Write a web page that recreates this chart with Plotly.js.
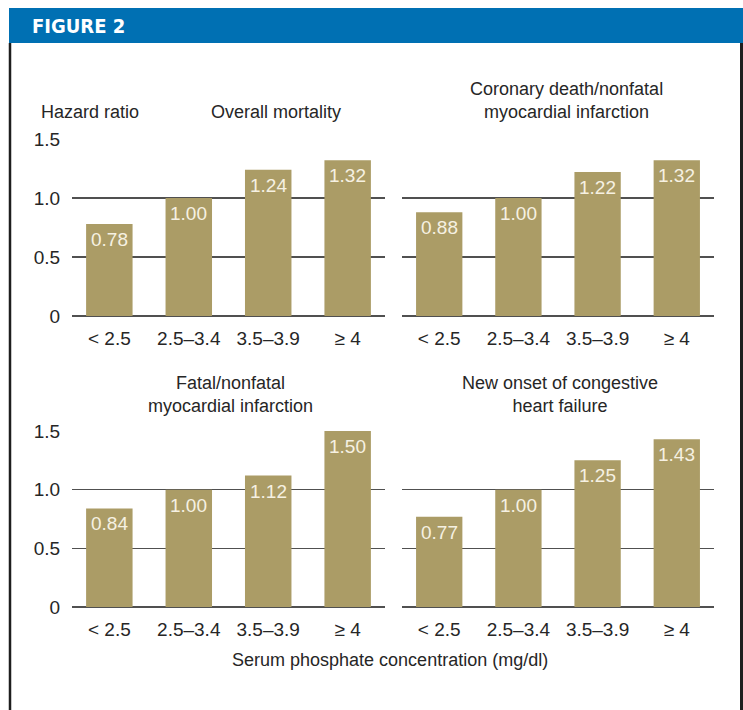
<!DOCTYPE html>
<html>
<head>
<meta charset="utf-8">
<script src="https://cdn.plot.ly/plotly-3.0.1.min.js"></script>
<style>html,body{margin:0;padding:0;background:#fff;}#chart{width:743px;height:710px;}</style>
</head>
<body>
<div id="chart"></div>
<script>
// ---- data ----
const categories = ["< 2.5", "2.5\u20133.4", "3.5\u20133.9", "\u2265 4"];
const overallMortality = [0.78, 1.00, 1.24, 1.32];
const coronaryDeath = [0.88, 1.00, 1.22, 1.32];
const fatalNonfatalMI = [0.84, 1.00, 1.12, 1.50];
const congestiveHF = [0.77, 1.00, 1.25, 1.43];
const valueLabels1 = ["0.78", "1.00", "1.24", "1.32"];
const valueLabels2 = ["0.88", "1.00", "1.22", "1.32"];
const valueLabels3 = ["0.84", "1.00", "1.12", "1.50"];
const valueLabels4 = ["0.77", "1.00", "1.25", "1.43"];
const yTickVals = [0, 0.5, 1.0, 1.5];
const yTickText = ["0", "0.5", "1.0", "1.5"];
const panelTitles = ["Overall mortality", "Coronary death/nonfatal<br>myocardial infarction",
                     "Fatal/nonfatal<br>myocardial infarction", "New onset of congestive<br>heart failure"];
const yAxisLabel = "Hazard ratio";
const xAxisLabel = "Serum phosphate concentration (mg/dl)";
const figureLabel = "FIGURE 2";

// ---- styles ----
const W = 743, H = 710;
const barColor = "#ab9c66";
const gridColor = "#505050";
const textColor = "#262626";
const FONT = "Liberation Sans, Arial, Helvetica, sans-serif";
const px = v => v / W;
const py = v => 1 - v / H;

const series = [overallMortality, coronaryDeath, fatalNonfatalMI, congestiveHF];
const labels = [valueLabels1, valueLabels2, valueLabels3, valueLabels4];
const axisIds = ["", "2", "3", "4"];

const traces = series.map((vals, i) => ({
  type: "bar",
  x: categories,
  y: vals,
  xaxis: "x" + axisIds[i],
  yaxis: "y" + axisIds[i],
  marker: {color: barColor, line: {width: 0}},
  width: 0.585,
  hoverinfo: "skip",
  showlegend: false
}));

const xDomL = [px(72), px(385)];
const xDomR = [px(402), px(714)];
const yDomT = [py(316), py(139)];
const yDomB = [py(607), py(431)];

function xAx(domain, anchor) {
  return {
    domain: domain, anchor: anchor, type: "category",
    range: [-0.47, 3.47],
    showgrid: false, zeroline: false, showline: false,
    ticks: "outside", ticklen: 5, tickcolor: "rgba(0,0,0,0)",
    tickfont: {family: FONT, size: 19, color: textColor},
    fixedrange: true
  };
}
function yAx(domain, anchor, showLabels) {
  return {
    domain: domain, anchor: anchor,
    range: [0, 1.5],
    tickvals: yTickVals, ticktext: yTickText,
    showticklabels: showLabels,
    showgrid: true, gridcolor: gridColor, gridwidth: 1.5,
    zeroline: true, zerolinecolor: gridColor, zerolinewidth: 1.5,
    showline: false,
    ticks: "outside", ticklen: 7, tickcolor: "rgba(0,0,0,0)",
    tickfont: {family: FONT, size: 19, color: textColor},
    fixedrange: true
  };
}

const annotations = [];
series.forEach((vals, i) => {
  vals.forEach((v, j) => {
    annotations.push({
      x: categories[j], y: v,
      xref: "x" + axisIds[i], yref: "y" + axisIds[i],
      text: labels[i][j], showarrow: false,
      yanchor: "top", xanchor: "center", yshift: -3,
      font: {family: FONT, size: 19, color: "#f6f1e2"}
    });
  });
});
const titleFont = {family: FONT, size: 18, color: textColor};
annotations.push(
  {xref: "paper", yref: "paper", x: px(39), y: py(112), xanchor: "left", yanchor: "middle",
   text: yAxisLabel, showarrow: false, font: titleFont},
  {xref: "paper", yref: "paper", x: px(276), y: py(112), xanchor: "center", yanchor: "middle",
   text: panelTitles[0], showarrow: false, font: titleFont},
  {xref: "paper", yref: "paper", x: px(566), y: py(100), xanchor: "center", yanchor: "middle",
   text: panelTitles[1], showarrow: false, font: titleFont},
  {xref: "paper", yref: "paper", x: px(230), y: py(394), xanchor: "center", yanchor: "middle",
   text: panelTitles[2], showarrow: false, font: titleFont},
  {xref: "paper", yref: "paper", x: px(560), y: py(394), xanchor: "center", yanchor: "middle",
   text: panelTitles[3], showarrow: false, font: titleFont},
  {xref: "paper", yref: "paper", x: px(390), y: py(660), xanchor: "center", yanchor: "middle",
   text: xAxisLabel, showarrow: false, font: titleFont},
  {xref: "paper", yref: "paper", x: px(30), y: py(26), xanchor: "left", yanchor: "middle",
   text: "<b>" + figureLabel + "</b>", showarrow: false,
   font: {family: "Liberation Sans Narrow, DejaVu Sans Condensed, Arial Narrow, sans-serif", size: 20, color: "#ffffff"}}
);

const shapes = [
  {type: "rect", xref: "paper", yref: "paper", x0: px(9), x1: 1, y0: py(43), y1: py(8),
   fillcolor: "#0070b3", line: {width: 0}},
  {type: "line", xref: "paper", yref: "paper", x0: px(10), x1: px(10), y0: 0, y1: py(43),
   line: {color: "#1e1e1e", width: 2.5}},
  {type: "line", xref: "paper", yref: "paper", x0: px(741.5), x1: px(741.5), y0: 0, y1: py(43),
   line: {color: "#1e1e1e", width: 3}}
];

const layout = {
  width: W, height: H,
  margin: {l: 0, r: 0, t: 0, b: 0},
  paper_bgcolor: "#ffffff", plot_bgcolor: "rgba(0,0,0,0)",
  showlegend: false,
  bargap: 0.4,
  xaxis: xAx(xDomL, "y"), yaxis: yAx(yDomT, "x", true),
  xaxis2: xAx(xDomR, "y2"), yaxis2: yAx(yDomT, "x2", false),
  xaxis3: xAx(xDomL, "y3"), yaxis3: yAx(yDomB, "x3", true),
  xaxis4: xAx(xDomR, "y4"), yaxis4: yAx(yDomB, "x4", false),
  annotations: annotations,
  shapes: shapes
};

Plotly.newPlot("chart", traces, layout, {displayModeBar: false, staticPlot: true});
</script>
</body>
</html>
